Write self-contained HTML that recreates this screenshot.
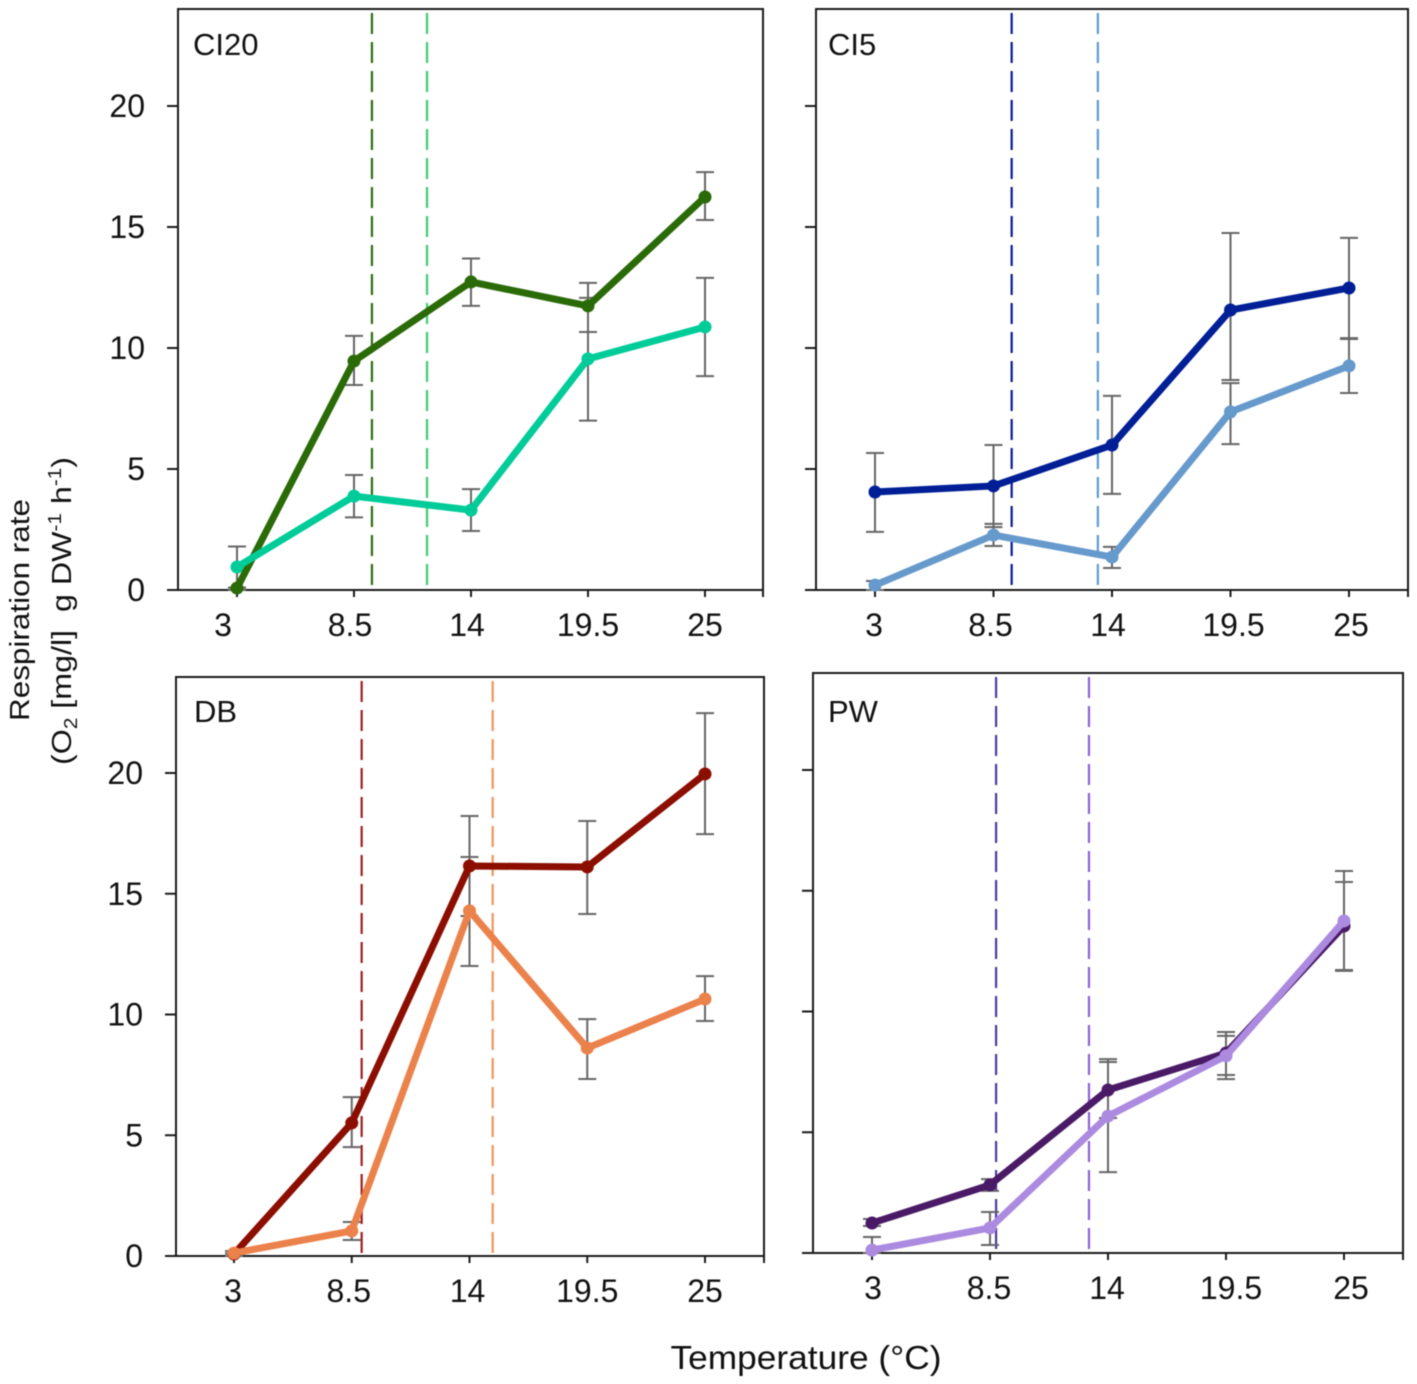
<!DOCTYPE html>
<html lang="en">
<head>
<meta charset="utf-8">
<title>Respiration rate by temperature</title>
<style>
  html, body { margin: 0; padding: 0; background: #fff; }
  #chart { display: block; width: 1417px; height: 1384px; font-family: "Liberation Sans", sans-serif; filter: blur(0.4px); }
  text { fill: #111; }
</style>
</head>
<body>
<svg id="chart" xmlns="http://www.w3.org/2000/svg" width="1417" height="1384" viewBox="0 0 1417 1384">
  <rect x="0" y="0" width="1417" height="1384" fill="#fff"></rect>
  <text transform="translate(29,610) rotate(-90)" text-anchor="middle" font-size="28" textLength="222" lengthAdjust="spacingAndGlyphs">Respiration rate</text>
  <text transform="translate(71,611) rotate(-90)" text-anchor="middle" font-size="28" textLength="308" lengthAdjust="spacingAndGlyphs" xml:space="preserve">(O<tspan font-size="18" dy="6">2</tspan><tspan dy="-6"> [mg/l]  g DW</tspan><tspan font-size="18" dy="-10">-1</tspan><tspan dy="10"> h</tspan><tspan font-size="18" dy="-10">-1</tspan><tspan dy="10">)</tspan></text>
  <text x="806" y="1369" text-anchor="middle" font-size="33" textLength="271" lengthAdjust="spacingAndGlyphs">Temperature (°C)</text>
</svg>
<script>
const temperatures = [3, 8.5, 14, 19.5, 25];
const xTickLabels = ['3', '8.5', '14', '19.5', '25'];
const yTickValues = [0, 5, 10, 15, 20];

const ci20DarkValues = [0.08, 9.46, 12.73, 11.74, 16.24];
const ci20DarkUpper = [0.1, 10.5, 13.7, 12.69, 17.27];
const ci20DarkLower = [0, 8.47, 11.74, 10.66, 15.29];
const ci20LightValues = [0.95, 3.88, 3.3, 9.55, 10.87];
const ci20LightUpper = [1.8, 4.75, 4.17, 12.07, 12.9];
const ci20LightLower = [0.1, 3.0, 2.44, 7.0, 8.84];
const ci20Thresholds = [9.39, 11.98];

const ci5DarkValues = [4.05, 4.3, 5.99, 11.57, 12.48];
const ci5DarkUpper = [5.66, 5.99, 8.02, 14.75, 14.55];
const ci5DarkLower = [2.4, 2.6, 3.97, 8.68, 10.41];
const ci5LightValues = [0.2, 2.27, 1.36, 7.36, 9.26];
const ci5LightUpper = [0.37, 2.73, 1.78, 8.55, 10.37];
const ci5LightLower = [0, 1.82, 0.91, 6.03, 8.14];
const ci5Thresholds = [9.39, 13.39];

const dbDarkValues = [0.08, 5.51, 16.15, 16.11, 19.96];
const dbDarkUpper = [0.1, 6.58, 18.22, 18.01, 22.48];
const dbDarkLower = [0, 4.51, 14.08, 14.16, 17.47];
const dbLightValues = [0.12, 1.04, 14.29, 8.61, 10.64];
const dbLightUpper = [0.2, 1.41, 16.52, 9.81, 11.59];
const dbLightLower = [0, 0.66, 12.01, 7.33, 9.73];
const dbThresholds = [9.01, 15.13];

const pwDarkValues = [1.24, 2.82, 6.75, 8.28, 13.54];
const pwDarkUpper = [1.41, 3.06, 7.91, 9.15, 15.36];
const pwDarkLower = [1.12, 2.57, 5.59, 7.37, 11.72];
const pwLightValues = [0.12, 1.04, 5.67, 8.16, 13.75];
const pwLightUpper = [0.66, 1.7, 8.03, 8.99, 15.82];
const pwLightLower = [0, 0.33, 3.35, 7.2, 11.68];
const pwThresholds = [8.83, 13.16];

const NS = 'http://www.w3.org/2000/svg';
const svg = document.getElementById('chart');

function make(parent, tag, attrs) {
  const el = document.createElementNS(NS, tag);
  for (const k in attrs) el.setAttribute(k, attrs[k]);
  parent.appendChild(el);
  return el;
}

function drawPanel(p) {
  const xScale = t => p.x3 + (t - 3) * (p.x25 - p.x3) / 22;
  const yScale = v => p.y0 - v * (p.y0 - p.y20) / 20;

  const g = make(svg, 'g', {});
  
  

  const frame = make(g, 'rect', { x: p.left, y: p.top, width: p.right - p.left, height: p.y0 - p.top, fill: 'none', stroke: '#1a1a1a', 'stroke-width': 2 });
  
  

  const xAxis = make(g, 'line', { x1: p.left - 11, x2: p.right, y1: p.y0, y2: p.y0, stroke: '#1a1a1a', 'stroke-width': 2 });
  
  

  const endTick = make(g, 'line', { x1: p.right, x2: p.right, y1: p.y0, y2: p.y0 + 7, stroke: '#1a1a1a', 'stroke-width': 2 });
  
  

  temperatures.forEach((t, i) => {
    const tick = make(g, 'line', { x1: xScale(t), x2: xScale(t), y1: p.y0, y2: p.y0 + 7, stroke: '#1a1a1a', 'stroke-width': 2 });
    
    
    const label = make(g, 'text', { x: xScale(t) + p.labelShift[i], y: p.y0 + 46, 'text-anchor': 'middle', 'font-size': 32 });
    label.textContent = xTickLabels[i];
    
    
  });

  yTickValues.forEach(v => {
    if (v > 0) {
      const tick = make(g, 'line', { x1: p.left - 11, x2: p.left, y1: yScale(v), y2: yScale(v), stroke: '#1a1a1a', 'stroke-width': 2 });
      
      
    }
    if (p.showY) {
      const label = make(g, 'text', { x: p.left - 33, y: yScale(v) + 11, 'text-anchor': 'end', 'font-size': 32 });
      label.textContent = String(v);
      
      
    }
  });

  const title = make(g, 'text', { x: p.titleX, y: p.titleY, 'font-size': 31 });
  title.textContent = p.title;
  
  

  p.thresholds.forEach((t, i) => {
    const vl = make(g, 'line', { x1: xScale(t) - 1, x2: xScale(t) - 1, y1: p.top + 4, y2: p.y0 - 2, stroke: p.thresholdColors[i], 'stroke-width': 2.2, 'stroke-dasharray': '21 8' });
    
    
  });

  p.series.forEach(s => {
    temperatures.forEach((t, i) => {
      const x = xScale(t), yU = yScale(s.upper[i]), yL = yScale(s.lower[i]);
      const bar = make(g, 'path', {
        d: 'M' + x + ' ' + yU + 'V' + yL + 'M' + (x - 9) + ' ' + yU + 'H' + (x + 9) + 'M' + (x - 9) + ' ' + yL + 'H' + (x + 9),
        fill: 'none', stroke: '#666', 'stroke-width': 2
      });
      
      
    });
  });

  p.series.forEach(s => {
    const pts = temperatures.map((t, i) => xScale(t) + ',' + yScale(s.values[i])).join(' ');
    const line = make(g, 'polyline', { points: pts, fill: 'none', stroke: s.color, 'stroke-width': 7, 'stroke-linejoin': 'round' });
    
    
    temperatures.forEach((t, i) => {
      const dot = make(g, 'circle', { cx: xScale(t), cy: yScale(s.values[i]), r: 6.5, fill: s.color });
      
      
    });
  });
}

drawPanel({
  key: 'ci20', title: 'CI20', titleX: 193, titleY: 55, left: 178, right: 763, top: 9, y0: 590, y20: 106, x3: 237, x25: 705,
  showY: true, labelShift: [-14, -4, -4, 0, 0],
  thresholds: ci20Thresholds, thresholdColors: ['#2a6e10', '#3ccb72'],
  series: [
    { name: 'dark', color: '#2a6a07', values: ci20DarkValues, upper: ci20DarkUpper, lower: ci20DarkLower },
    { name: 'light', color: '#00cc99', values: ci20LightValues, upper: ci20LightUpper, lower: ci20LightLower }
  ]
});
drawPanel({
  key: 'ci5', title: 'CI5', titleX: 828, titleY: 55, left: 816, right: 1408, top: 9, y0: 590, y20: 106, x3: 875, x25: 1349,
  showY: false, labelShift: [-1, -3, -4, 3, 2],
  thresholds: ci5Thresholds, thresholdColors: ['#0a1a90', '#5b9bd5'],
  series: [
    { name: 'dark', color: '#001f96', values: ci5DarkValues, upper: ci5DarkUpper, lower: ci5DarkLower },
    { name: 'light', color: '#6699cc', values: ci5LightValues, upper: ci5LightUpper, lower: ci5LightLower }
  ]
});
drawPanel({
  key: 'db', title: 'DB', titleX: 194, titleY: 722, left: 176, right: 764, top: 677, y0: 1256, y20: 773, x3: 234, x25: 705,
  showY: true, labelShift: [-1, -3, -2, 0, 0],
  thresholds: dbThresholds, thresholdColors: ['#9c1f1f', '#f0945c'],
  series: [
    { name: 'dark', color: '#8b0e00', values: dbDarkValues, upper: dbDarkUpper, lower: dbDarkLower },
    { name: 'light', color: '#eb814b', values: dbLightValues, upper: dbLightUpper, lower: dbLightLower }
  ]
});
drawPanel({
  key: 'pw', title: 'PW', titleX: 828, titleY: 722, left: 813, right: 1403, top: 673, y0: 1253, y20: 770, x3: 872, x25: 1344,
  showY: false, labelShift: [1, -1, -1, 5, 7],
  thresholds: pwThresholds, thresholdColors: ['#4b3a9c', '#8f60d8'],
  series: [
    { name: 'dark', color: '#4a1a66', values: pwDarkValues, upper: pwDarkUpper, lower: pwDarkLower },
    { name: 'light', color: '#ac8ae0', values: pwLightValues, upper: pwLightUpper, lower: pwLightLower }
  ]
});
</script>
</body>
</html>
